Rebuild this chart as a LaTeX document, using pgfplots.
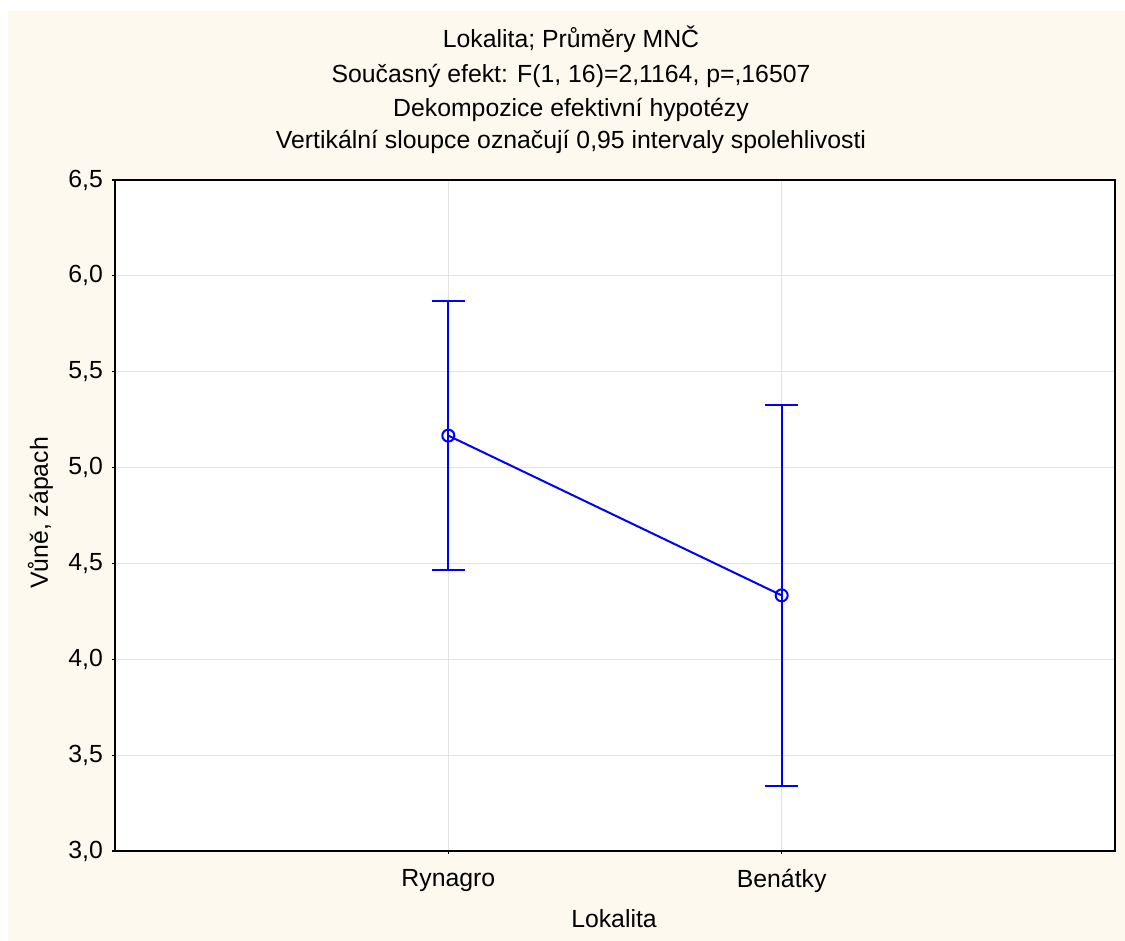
\documentclass[border=0pt]{standalone}
\usepackage{fontspec}
\setmainfont{Liberation Sans}
\usepackage{pgfplots}
\pgfplotsset{compat=1.18}
\definecolor{cream}{HTML}{FDF9EF}
\definecolor{gridgray}{HTML}{E3E3E3}
\begin{document}
\begin{tikzpicture}
\fill[white] (0,0) rectangle (562.5pt,470.5pt);
\fill[cream] (4pt,0) rectangle (562.5pt,465pt);
\begin{axis}[
  at={(57.5pt,45pt)}, anchor=south west,
  width=500pt, height=335.5pt, scale only axis,
  xmin=-1, xmax=2, ymin=3, ymax=6.5,
  xtick={0,1}, xticklabels={Rynagro,Benátky},
  ytick={3,3.5,4,4.5,5,5.5,6,6.5},
  grid=major, major grid style={gridgray, line width=0.5pt},
  axis line style={black, line width=1pt},
  tick style={black, line width=0.6pt},
  tick align=outside, major tick length=1.5pt, tick pos=left,
  axis background/.style={fill=white},
  ticklabel style={font=\fontsize{12.4}{14}\selectfont},
  xticklabel style={yshift=-4pt},
  yticklabel style={xshift=-1pt, /pgf/number format/.cd, fixed, fixed zerofill, precision=1, use comma, assume math mode=true},
]
% error bars, one plot for each category
\addplot[draw=blue, line width=1pt, mark=none, forget plot,
  error bars/.cd, y dir=both, y explicit,
  error bar style={draw=blue, line width=1pt},
  error mark options={draw=blue, rotate=90, mark size=8.25pt, line width=1pt}]
  coordinates {(0,5.1667) +- (0,0.7035)};
\addplot[draw=blue, line width=1pt, mark=none, forget plot,
  error bars/.cd, y dir=both, y explicit,
  error bar style={draw=blue, line width=1pt},
  error mark options={draw=blue, rotate=90, mark size=8.25pt, line width=1pt}]
  coordinates {(1,4.3333) +- (0,0.9917)};
% means
\addplot[draw=blue, line width=1pt, mark=o, mark size=3pt, mark options={draw=blue, fill=none, solid}]
  coordinates {(0,5.1667) (1,4.3333)};
\end{axis}
\begin{scope}[font=\fontsize{12.4}{14}\selectfont]
\node[anchor=base] at (285.5pt,446.5pt) {Lokalita; Průměry MNČ};
\node[anchor=base] at (285.5pt,429pt) {Současný efekt: F(1, 16)=2,1164, p=,16507};
\node[anchor=base] at (285.5pt,412pt) {Dekompozice efektivní hypotézy};
\node[anchor=base] at (285.5pt,396pt) {Vertikální sloupce označují 0,95 intervaly spolehlivosti};
\end{scope}
\node[anchor=base, font=\fontsize{12.4}{14}\selectfont] at (307pt,6.5pt) {Lokalita};
\node[anchor=base, rotate=90, font=\fontsize{12.4}{14}\selectfont] at (24pt,214pt) {Vůně, zápach};
\end{tikzpicture}
\end{document}
